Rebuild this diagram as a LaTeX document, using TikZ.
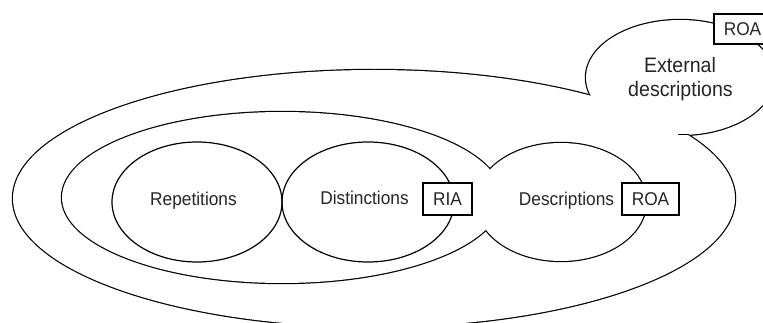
\documentclass[tikz,border=0pt]{standalone}
\usepackage{fontspec}
\setmainfont{Liberation Sans}
\usepackage{graphicx}
\newcommand{\lbl}[1]{\scalebox{1}[1.07]{#1}}
\begin{document}
\begin{tikzpicture}[x=1pt,y=-1pt,
  edge/.style={line width=1.2pt},
  rim/.style={line width=2.4pt},
  label/.style={inner sep=0pt, anchor=base, text=black!85,
    font=\fontsize{17.3}{20}\selectfont},
  tag/.style={draw, line width=1.2pt, fill=white, inner sep=0pt,
    minimum height=32pt, text=black!85,
    font=\fontsize{17.3}{20}\selectfont}]
\useasboundingbox (0,0) rectangle (763,323);
\clip (0,0) rectangle (763,323);

% outer region: big ellipse merged with the callout bubble
\draw[rim] (374,198.5) ellipse [x radius=361, y radius=128.5];
\draw[rim] (680,77.5) ellipse [x radius=94, y radius=57.5];
\fill[white] (374,198.5) ellipse [x radius=361, y radius=128.5];
\fill[white] (680,77.5) ellipse [x radius=94, y radius=57.5];
\coordinate (joint) at (689,134.5);
\coordinate (tail) at (678,134.5);
\draw[edge] (joint) -- (tail);

% middle region merged with the descriptions ellipse
\draw[rim] (282,197.5) ellipse [x radius=220, y radius=85.5];
\draw[rim] (561,202) ellipse [x radius=85, y radius=59];
\fill[white] (282,197.5) ellipse [x radius=220, y radius=85.5];
\fill[white] (561,202) ellipse [x radius=85, y radius=59];

% repetitions and distinctions
\draw[edge] (197,202) ellipse [x radius=85, y radius=60];
\draw[edge] (368,202) ellipse [x radius=86, y radius=60];

% labels
\node[label] (rep) at (193.5,206) {\lbl{Repetitions}};
\node[label] (dist) at (364.5,205) {\lbl{Distinctions}};
\node[label] (desc) at (566.5,205.5) {\lbl{Descriptions}};
\node[label, font=\fontsize{19.6}{23}\selectfont] (ext1) at (680,73) {\lbl{External}};
\node[label, font=\fontsize{19.6}{23}\selectfont] (ext2) at (680.5,97) {\lbl{descriptions}};

% tags
\node[tag, minimum width=49pt] (ria) at (447.5,199) {\lbl{RIA}};
\node[tag, minimum width=57pt] (roa) at (650.5,199) {\lbl{ROA}};
\node[tag, minimum width=57pt, minimum height=30pt] (roatop) at (742.5,29) {\lbl{ROA}};
\end{tikzpicture}
\end{document}
